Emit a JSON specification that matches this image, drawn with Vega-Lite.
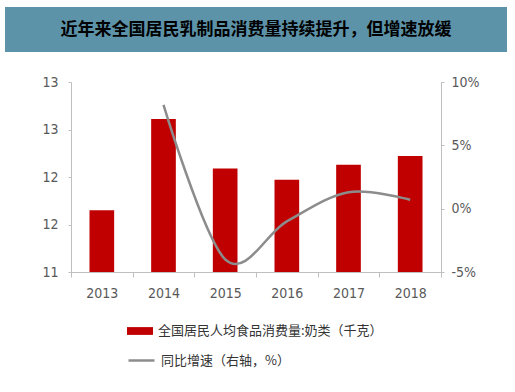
{
  "$schema": "https://vega.github.io/schema/vega-lite/v6.json",
  "padding": {"left": 5, "top": 7, "right": 5, "bottom": 5},
  "background": "white",
  "config": {
    "view": {"stroke": null},
    "concat": {"spacing": 30}
  },
  "center": true,
  "bounds": "flush",
  "vconcat": [
    {
      "width": 502,
      "height": 45,
      "view": {"fill": "#5d93a8", "stroke": null},
      "data": {"values": [{"title": "近年来全国居民乳制品消费量持续提升，但增速放缓"}]},
      "mark": {"type": "text", "font": "Noto Sans CJK SC", "fontSize": 17, "fontWeight": "bold", "color": "#000000", "baseline": "middle", "align": "center"},
      "encoding": {"text": {"field": "title"}}
    },
    {
      "width": 370,
      "height": 190,
      "data": {"values": [
        {"year": "2013", "consumption": 11.65, "growth": null},
        {"year": "2014", "consumption": 12.61, "growth": 8.2},
        {"year": "2015", "consumption": 12.09, "growth": -4.0},
        {"year": "2016", "consumption": 11.97, "growth": -1.0},
        {"year": "2017", "consumption": 12.13, "growth": 1.3},
        {"year": "2018", "consumption": 12.22, "growth": 0.7}
      ]},
      "encoding": {
        "x": {
          "field": "year", "type": "ordinal",
          "scale": {"paddingInner": 0, "paddingOuter": 0},
          "axis": {
            "title": null, "labelAngle": 0, "tickBand": "extent",
            "domainColor": "#bfbfbf", "tickColor": "#bfbfbf", "tickSize": 5,
            "labelFont": "Liberation Sans Narrow, DejaVu Sans Condensed, sans-serif",
            "labelFontSize": 14, "labelColor": "#595959", "labelPadding": 9
          }
        }
      },
      "layer": [
        {
          "mark": {"type": "bar", "width": {"band": 0.4}, "clip": true},
          "encoding": {
            "y": {
              "field": "consumption", "type": "quantitative",
              "scale": {"domain": [11, 13], "zero": false, "nice": false},
              "axis": {
                "title": null, "orient": "left", "values": [11, 11.5, 12, 12.5, 13], "format": ".0f",
                "grid": false, "domainColor": "#bfbfbf", "tickColor": "#bfbfbf", "tickSize": 3,
                "labelFont": "Liberation Sans Narrow, DejaVu Sans Condensed, sans-serif",
                "labelFontSize": 14, "labelColor": "#595959", "labelPadding": 10
              }
            },
            "fill": {
              "datum": "全国居民人均食品消费量:奶类（千克）",
              "scale": {"range": ["#c00000"]},
              "legend": {
                "title": null, "orient": "none", "legendX": 122, "legendY": 311,
                "symbolType": "M-1,-0.3L1,-0.3L1,0.3L-1,0.3Z", "symbolSize": 676, "symbolStrokeWidth": 0,
                "labelFont": "Noto Sans CJK SC", "labelFontSize": 13, "labelColor": "#333333",
                "labelOffset": 5, "labelLimit": 400
              }
            }
          }
        },
        {
          "mark": {"type": "line", "interpolate": "cardinal", "strokeWidth": 2.5},
          "encoding": {
            "y": {
              "field": "growth", "type": "quantitative",
              "scale": {"domain": [-5, 10], "zero": false, "nice": false},
              "axis": {
                "title": null, "orient": "right", "values": [-5, 0, 5, 10], "labelExpr": "datum.value + '%'",
                "grid": false, "domainColor": "#bfbfbf", "tickColor": "#bfbfbf", "tickSize": 3,
                "labelFont": "Liberation Sans Narrow, DejaVu Sans Condensed, sans-serif",
                "labelFontSize": 14, "labelColor": "#595959", "labelPadding": 7
              }
            },
            "stroke": {
              "datum": "同比增速（右轴，%）",
              "scale": {"range": ["#8c8c8c"]},
              "legend": {
                "title": null, "orient": "none", "legendX": 122, "legendY": 339,
                "symbolType": "stroke", "symbolSize": 676, "symbolStrokeWidth": 2.5,
                "labelFont": "Noto Sans CJK SC", "labelFontSize": 13, "labelColor": "#333333",
                "labelOffset": 5, "labelLimit": 400
              }
            }
          }
        }
      ],
      "resolve": {"scale": {"y": "independent"}}
    }
  ]
}
